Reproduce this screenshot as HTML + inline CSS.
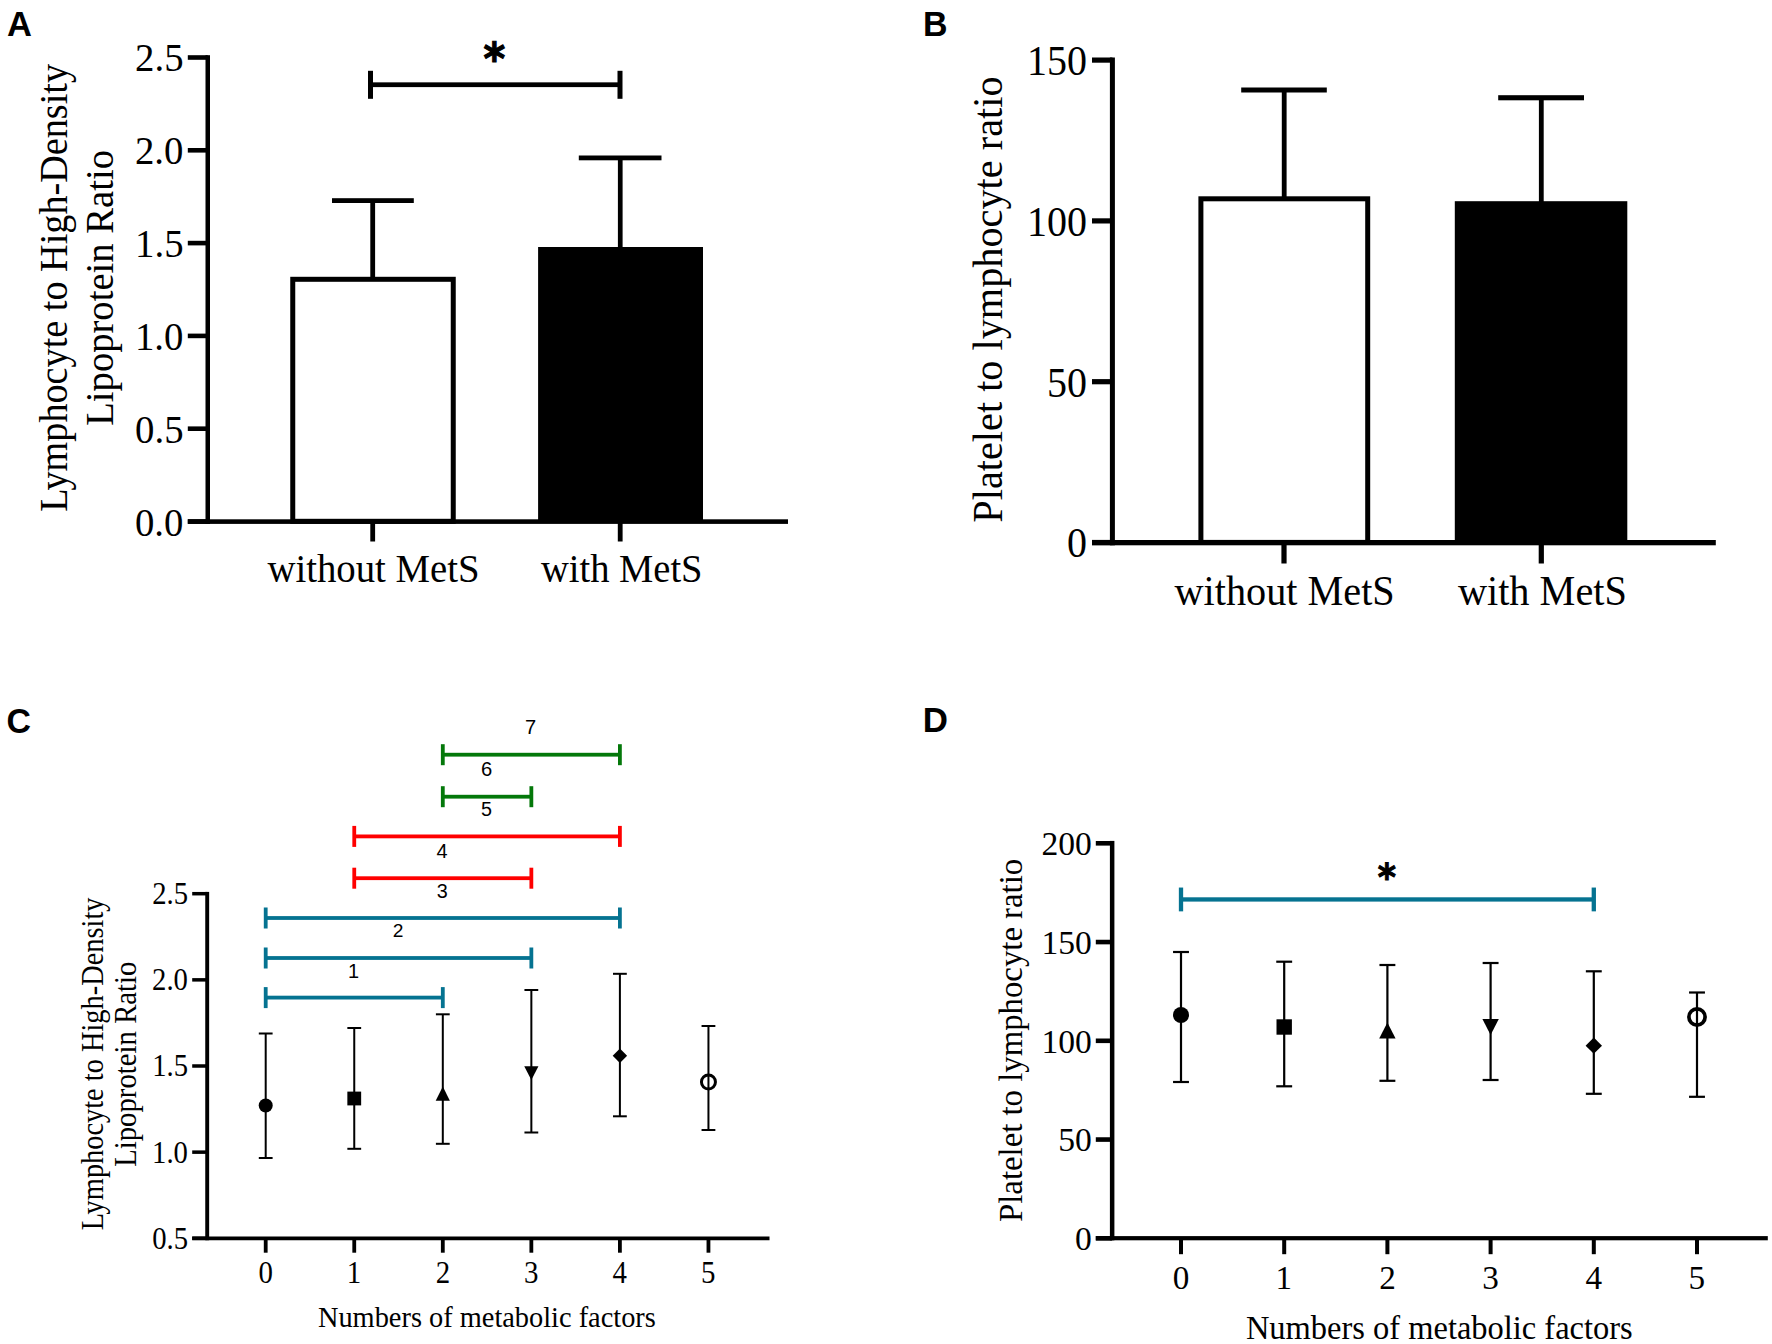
<!DOCTYPE html>
<html lang="en">
<head>
<meta charset="utf-8">
<title>Figure</title>
<style>
html,body{margin:0;padding:0;background:#fff;overflow:hidden;}
svg{display:block;}
text{white-space:pre;}
</style>
</head>
<body>
<svg width="1772" height="1344" viewBox="0 0 1772 1344">
<rect x="0" y="0" width="1772" height="1344" fill="#fff"/>
<g id="panelA">
<text transform="translate(7.04 35.90) scale(0.3448 0.3491)" font-family='"Liberation Sans", sans-serif' font-weight="bold" font-size="100" fill="#000">A</text>
<rect x="205.50" y="55.20" width="4.50" height="468.80" fill="#000"/>
<rect x="187.80" y="519.30" width="600.20" height="4.60" fill="#000"/>
<rect x="187.80" y="55.20" width="19.95" height="4.60" fill="#000"/>
<text transform="translate(135.05 71.10) scale(0.9533 1)" font-family='"Liberation Serif", serif' font-weight="normal" font-size="40.70" fill="#000">2.5</text>
<rect x="187.80" y="148.00" width="19.95" height="4.60" fill="#000"/>
<text transform="translate(134.95 164.08) scale(0.9533 1)" font-family='"Liberation Serif", serif' font-weight="normal" font-size="40.70" fill="#000">2.0</text>
<rect x="187.80" y="240.80" width="19.95" height="4.60" fill="#000"/>
<text transform="translate(135.05 257.06) scale(0.9533 1)" font-family='"Liberation Serif", serif' font-weight="normal" font-size="40.70" fill="#000">1.5</text>
<rect x="187.80" y="333.60" width="19.95" height="4.60" fill="#000"/>
<text transform="translate(134.95 350.04) scale(0.9533 1)" font-family='"Liberation Serif", serif' font-weight="normal" font-size="40.70" fill="#000">1.0</text>
<rect x="187.80" y="426.40" width="19.95" height="4.60" fill="#000"/>
<text transform="translate(135.05 443.02) scale(0.9533 1)" font-family='"Liberation Serif", serif' font-weight="normal" font-size="40.70" fill="#000">0.5</text>
<rect x="187.80" y="519.20" width="19.95" height="4.60" fill="#000"/>
<text transform="translate(134.95 536.00) scale(0.9533 1)" font-family='"Liberation Serif", serif' font-weight="normal" font-size="40.70" fill="#000">0.0</text>
<rect x="370.30" y="522.00" width="4.80" height="19.50" fill="#000"/>
<rect x="617.80" y="522.00" width="4.80" height="19.50" fill="#000"/>
<rect x="292.75" y="279.3" width="160.5" height="242.0" fill="#fff" stroke="#000" stroke-width="5"/>
<rect x="538.10" y="247.00" width="164.90" height="275.00" fill="#000"/>
<rect x="370.30" y="200.60" width="4.80" height="77.40" fill="#000"/>
<rect x="332.00" y="198.20" width="81.80" height="4.80" fill="#000"/>
<rect x="617.90" y="158.00" width="4.70" height="90.00" fill="#000"/>
<rect x="578.80" y="155.50" width="82.70" height="4.80" fill="#000"/>
<rect x="370.40" y="82.35" width="249.60" height="4.75" fill="#000"/>
<rect x="368.00" y="70.80" width="5.00" height="28.00" fill="#000"/>
<rect x="617.50" y="70.80" width="5.00" height="28.00" fill="#000"/>
<text transform="translate(483.62 74.32) scale(0.4145 0.4387)" font-family='"DejaVu Sans", sans-serif' font-weight="bold" font-size="100" fill="#000" stroke="#000" stroke-width="2.58">*</text>
<text transform="translate(267.40 581.70) scale(0.9528 1)" font-family='"Liberation Serif", serif' font-weight="normal" font-size="40.70" fill="#000">without MetS</text>
<text transform="translate(541.00 581.70) scale(0.9466 1)" font-family='"Liberation Serif", serif' font-weight="normal" font-size="40.70" fill="#000">with MetS</text>
<text transform="translate(67.20 511.75) rotate(-90) scale(0.9460 1)" font-family='"Liberation Serif", serif' font-weight="normal" font-size="40.40">Lymphocyte to High-Density</text>
<text transform="translate(112.50 425.76) rotate(-90) scale(0.9565 1)" font-family='"Liberation Serif", serif' font-weight="normal" font-size="40.40">Lipoprotein Ratio</text>
</g>
<g id="panelB">
<text transform="translate(923.01 35.80) scale(0.3393 0.3476)" font-family='"Liberation Sans", sans-serif' font-weight="bold" font-size="100" fill="#000">B</text>
<rect x="1109.90" y="57.50" width="5.00" height="487.80" fill="#000"/>
<rect x="1092.00" y="540.00" width="623.80" height="5.30" fill="#000"/>
<rect x="1092.00" y="57.50" width="20.40" height="5.20" fill="#000"/>
<text transform="translate(1027.10 75.00) scale(0.9524 1)" font-family='"Liberation Serif", serif' font-weight="normal" font-size="42.00" fill="#000">150</text>
<rect x="1092.00" y="218.30" width="20.40" height="5.20" fill="#000"/>
<text transform="translate(1027.10 235.80) scale(0.9524 1)" font-family='"Liberation Serif", serif' font-weight="normal" font-size="42.00" fill="#000">100</text>
<rect x="1092.00" y="379.10" width="20.40" height="5.20" fill="#000"/>
<text transform="translate(1047.10 396.60) scale(0.9524 1)" font-family='"Liberation Serif", serif' font-weight="normal" font-size="42.00" fill="#000">50</text>
<rect x="1092.00" y="539.90" width="20.40" height="5.20" fill="#000"/>
<text transform="translate(1067.10 557.40) scale(0.9524 1)" font-family='"Liberation Serif", serif' font-weight="normal" font-size="42.00" fill="#000">0</text>
<rect x="1281.40" y="543.00" width="5.20" height="20.50" fill="#000"/>
<rect x="1538.70" y="543.00" width="5.20" height="20.50" fill="#000"/>
<rect x="1200.9" y="198.8" width="166.8" height="343.6" fill="#fff" stroke="#000" stroke-width="5.0"/>
<rect x="1454.80" y="201.20" width="172.50" height="341.80" fill="#000"/>
<rect x="1281.80" y="90.00" width="4.80" height="108.00" fill="#000"/>
<rect x="1241.20" y="87.50" width="85.60" height="5.00" fill="#000"/>
<rect x="1538.90" y="98.00" width="4.80" height="104.00" fill="#000"/>
<rect x="1498.20" y="95.20" width="85.80" height="5.10" fill="#000"/>
<text transform="translate(1174.50 605.00) scale(0.9495 1)" font-family='"Liberation Serif", serif' font-weight="normal" font-size="42.40" fill="#000">without MetS</text>
<text transform="translate(1457.90 605.00) scale(0.9502 1)" font-family='"Liberation Serif", serif' font-weight="normal" font-size="42.40" fill="#000">with MetS</text>
<text transform="translate(1001.50 522.71) rotate(-90) scale(0.9502 1)" font-family='"Liberation Serif", serif' font-weight="normal" font-size="42.40">Platelet to lymphocyte ratio</text>
</g>
<g id="panelC">
<text transform="translate(6.54 732.65) scale(0.3389 0.3548)" font-family='"Liberation Sans", sans-serif' font-weight="bold" font-size="100" fill="#000">C</text>
<rect x="205.25" y="891.90" width="3.90" height="348.35" fill="#000"/>
<rect x="192.20" y="1236.50" width="577.30" height="3.75" fill="#000"/>
<rect x="192.20" y="891.95" width="15.00" height="3.50" fill="#000"/>
<text transform="translate(152.17 903.80) scale(0.9394 1)" font-family='"Liberation Serif", serif' font-weight="normal" font-size="30.55" fill="#000">2.5</text>
<rect x="192.20" y="978.10" width="15.00" height="3.50" fill="#000"/>
<text transform="translate(152.10 990.12) scale(0.9394 1)" font-family='"Liberation Serif", serif' font-weight="normal" font-size="30.55" fill="#000">2.0</text>
<rect x="192.20" y="1064.25" width="15.00" height="3.50" fill="#000"/>
<text transform="translate(152.17 1076.45) scale(0.9394 1)" font-family='"Liberation Serif", serif' font-weight="normal" font-size="30.55" fill="#000">1.5</text>
<rect x="192.20" y="1150.40" width="15.00" height="3.50" fill="#000"/>
<text transform="translate(152.10 1162.77) scale(0.9394 1)" font-family='"Liberation Serif", serif' font-weight="normal" font-size="30.55" fill="#000">1.0</text>
<rect x="192.20" y="1236.55" width="15.00" height="3.50" fill="#000"/>
<text transform="translate(152.17 1249.10) scale(0.9394 1)" font-family='"Liberation Serif", serif' font-weight="normal" font-size="30.55" fill="#000">0.5</text>
<rect x="263.80" y="1239.00" width="3.80" height="13.70" fill="#000"/>
<text transform="translate(258.47 1282.90) scale(0.9460 1)" font-family='"Liberation Serif", serif' font-weight="normal" font-size="30.55" fill="#000">0</text>
<rect x="352.35" y="1239.00" width="3.80" height="13.70" fill="#000"/>
<text transform="translate(346.63 1282.90) scale(0.9460 1)" font-family='"Liberation Serif", serif' font-weight="normal" font-size="30.55" fill="#000">1</text>
<rect x="440.90" y="1239.00" width="3.80" height="13.70" fill="#000"/>
<text transform="translate(435.72 1282.90) scale(0.9460 1)" font-family='"Liberation Serif", serif' font-weight="normal" font-size="30.55" fill="#000">2</text>
<rect x="529.45" y="1239.00" width="3.80" height="13.70" fill="#000"/>
<text transform="translate(524.02 1282.90) scale(0.9460 1)" font-family='"Liberation Serif", serif' font-weight="normal" font-size="30.55" fill="#000">3</text>
<rect x="618.00" y="1239.00" width="3.80" height="13.70" fill="#000"/>
<text transform="translate(612.60 1282.90) scale(0.9460 1)" font-family='"Liberation Serif", serif' font-weight="normal" font-size="30.55" fill="#000">4</text>
<rect x="706.55" y="1239.00" width="3.80" height="13.70" fill="#000"/>
<text transform="translate(700.97 1282.90) scale(0.9460 1)" font-family='"Liberation Serif", serif' font-weight="normal" font-size="30.55" fill="#000">5</text>
<text transform="translate(317.95 1326.80) scale(0.9654 1)" font-family='"Liberation Serif", serif' font-weight="normal" font-size="29.40" fill="#000">Numbers of metabolic factors</text>
<text transform="translate(102.50 1230.15) rotate(-90) scale(0.9280 1)" font-family='"Liberation Serif", serif' font-weight="normal" font-size="30.60">Lymphocyte to High-Density</text>
<text transform="translate(136.20 1166.86) rotate(-90) scale(0.9406 1)" font-family='"Liberation Serif", serif' font-weight="normal" font-size="30.60">Lipoprotein Ratio</text>
<rect x="265.70" y="995.70" width="177.10" height="3.80" fill="#057391"/>
<rect x="263.80" y="987.10" width="3.80" height="21.00" fill="#057391"/>
<rect x="440.90" y="987.10" width="3.80" height="21.00" fill="#057391"/>
<rect x="265.70" y="956.10" width="265.65" height="3.80" fill="#057391"/>
<rect x="263.80" y="947.50" width="3.80" height="21.00" fill="#057391"/>
<rect x="529.45" y="947.50" width="3.80" height="21.00" fill="#057391"/>
<rect x="265.70" y="916.10" width="354.20" height="3.80" fill="#057391"/>
<rect x="263.80" y="907.50" width="3.80" height="21.00" fill="#057391"/>
<rect x="618.00" y="907.50" width="3.80" height="21.00" fill="#057391"/>
<rect x="354.25" y="876.30" width="177.10" height="3.80" fill="#ff0000"/>
<rect x="352.35" y="867.70" width="3.80" height="21.00" fill="#ff0000"/>
<rect x="529.45" y="867.70" width="3.80" height="21.00" fill="#ff0000"/>
<rect x="354.25" y="834.50" width="265.65" height="3.80" fill="#ff0000"/>
<rect x="352.35" y="825.90" width="3.80" height="21.00" fill="#ff0000"/>
<rect x="618.00" y="825.90" width="3.80" height="21.00" fill="#ff0000"/>
<rect x="442.80" y="794.80" width="88.55" height="3.80" fill="#04780a"/>
<rect x="440.90" y="786.20" width="3.80" height="21.00" fill="#04780a"/>
<rect x="529.45" y="786.20" width="3.80" height="21.00" fill="#04780a"/>
<rect x="442.80" y="752.80" width="177.10" height="3.80" fill="#04780a"/>
<rect x="440.90" y="744.20" width="3.80" height="21.00" fill="#04780a"/>
<rect x="618.00" y="744.20" width="3.80" height="21.00" fill="#04780a"/>
<text transform="translate(348.10 977.50) scale(1.0000 1)" font-family='"Liberation Sans", sans-serif' font-weight="normal" font-size="19.93" fill="#000">1</text>
<text transform="translate(392.67 937.20) scale(1.0000 1)" font-family='"Liberation Sans", sans-serif' font-weight="normal" font-size="19.21" fill="#000">2</text>
<text transform="translate(436.76 898.10) scale(1.0000 1)" font-family='"Liberation Sans", sans-serif' font-weight="normal" font-size="19.79" fill="#000">3</text>
<text transform="translate(436.52 858.00) scale(1.0000 1)" font-family='"Liberation Sans", sans-serif' font-weight="normal" font-size="19.93" fill="#000">4</text>
<text transform="translate(481.11 815.60) scale(1.0000 1)" font-family='"Liberation Sans", sans-serif' font-weight="normal" font-size="19.78" fill="#000">5</text>
<text transform="translate(480.92 776.10) scale(1.0000 1)" font-family='"Liberation Sans", sans-serif' font-weight="normal" font-size="20.21" fill="#000">6</text>
<text transform="translate(525.00 734.30) scale(1.0000 1)" font-family='"Liberation Sans", sans-serif' font-weight="normal" font-size="20.07" fill="#000">7</text>
<rect x="264.70" y="1033.50" width="2.00" height="124.50" fill="#000"/>
<rect x="258.80" y="1032.50" width="13.80" height="2.00" fill="#000"/>
<rect x="258.80" y="1157.00" width="13.80" height="2.00" fill="#000"/>
<rect x="353.25" y="1028.00" width="2.00" height="120.80" fill="#000"/>
<rect x="347.35" y="1027.00" width="13.80" height="2.00" fill="#000"/>
<rect x="347.35" y="1147.80" width="13.80" height="2.00" fill="#000"/>
<rect x="441.80" y="1014.30" width="2.00" height="129.50" fill="#000"/>
<rect x="435.90" y="1013.30" width="13.80" height="2.00" fill="#000"/>
<rect x="435.90" y="1142.80" width="13.80" height="2.00" fill="#000"/>
<rect x="530.35" y="990.00" width="2.00" height="142.50" fill="#000"/>
<rect x="524.45" y="989.00" width="13.80" height="2.00" fill="#000"/>
<rect x="524.45" y="1131.50" width="13.80" height="2.00" fill="#000"/>
<rect x="618.90" y="973.80" width="2.00" height="142.50" fill="#000"/>
<rect x="613.00" y="972.80" width="13.80" height="2.00" fill="#000"/>
<rect x="613.00" y="1115.30" width="13.80" height="2.00" fill="#000"/>
<rect x="707.45" y="1026.00" width="2.00" height="104.00" fill="#000"/>
<rect x="701.55" y="1025.00" width="13.80" height="2.00" fill="#000"/>
<rect x="701.55" y="1129.00" width="13.80" height="2.00" fill="#000"/>
<circle cx="265.70" cy="1105.5" r="7"/>
<rect x="347.35" y="1091.60" width="13.80" height="13.80" fill="#000"/>
<polygon points="435.70,1100.7 449.90,1100.7 442.80,1086.6"/>
<polygon points="524.25,1066.3 538.45,1066.3 531.35,1080.0"/>
<polygon points="612.70,1055.8 619.90,1048.6 627.10,1055.8 619.90,1063.0"/>
<circle cx="708.45" cy="1082" r="7" fill="none" stroke="#000" stroke-width="3"/>
</g>
<g id="panelD">
<text transform="translate(922.64 732.10) scale(0.3494 0.3505)" font-family='"Liberation Sans", sans-serif' font-weight="bold" font-size="100" fill="#000">D</text>
<rect x="1109.90" y="840.90" width="4.50" height="399.40" fill="#000"/>
<rect x="1095.80" y="1236.10" width="672.00" height="4.20" fill="#000"/>
<rect x="1095.80" y="841.00" width="16.35" height="4.60" fill="#000"/>
<text transform="translate(1041.46 855.00) scale(0.9669 1)" font-family='"Liberation Serif", serif' font-weight="normal" font-size="34.75" fill="#000">200</text>
<rect x="1095.80" y="939.75" width="16.35" height="4.60" fill="#000"/>
<text transform="translate(1041.46 953.75) scale(0.9669 1)" font-family='"Liberation Serif", serif' font-weight="normal" font-size="34.75" fill="#000">150</text>
<rect x="1095.80" y="1038.50" width="16.35" height="4.60" fill="#000"/>
<text transform="translate(1041.46 1052.50) scale(0.9669 1)" font-family='"Liberation Serif", serif' font-weight="normal" font-size="34.75" fill="#000">100</text>
<rect x="1095.80" y="1137.25" width="16.35" height="4.60" fill="#000"/>
<text transform="translate(1058.26 1151.25) scale(0.9669 1)" font-family='"Liberation Serif", serif' font-weight="normal" font-size="34.75" fill="#000">50</text>
<rect x="1095.80" y="1236.00" width="16.35" height="4.60" fill="#000"/>
<text transform="translate(1075.06 1250.00) scale(0.9669 1)" font-family='"Liberation Serif", serif' font-weight="normal" font-size="34.75" fill="#000">0</text>
<rect x="1179.00" y="1239.00" width="4.00" height="15.20" fill="#000"/>
<text transform="translate(1172.70 1288.80) scale(0.9568 1)" font-family='"Liberation Serif", serif' font-weight="normal" font-size="34.70" fill="#000">0</text>
<rect x="1282.20" y="1239.00" width="4.00" height="15.20" fill="#000"/>
<text transform="translate(1275.44 1288.80) scale(0.9568 1)" font-family='"Liberation Serif", serif' font-weight="normal" font-size="34.70" fill="#000">1</text>
<rect x="1385.40" y="1239.00" width="4.00" height="15.20" fill="#000"/>
<text transform="translate(1379.27 1288.80) scale(0.9568 1)" font-family='"Liberation Serif", serif' font-weight="normal" font-size="34.70" fill="#000">2</text>
<rect x="1488.60" y="1239.00" width="4.00" height="15.20" fill="#000"/>
<text transform="translate(1482.18 1288.80) scale(0.9568 1)" font-family='"Liberation Serif", serif' font-weight="normal" font-size="34.70" fill="#000">3</text>
<rect x="1591.80" y="1239.00" width="4.00" height="15.20" fill="#000"/>
<text transform="translate(1585.42 1288.80) scale(0.9568 1)" font-family='"Liberation Serif", serif' font-weight="normal" font-size="34.70" fill="#000">4</text>
<rect x="1695.00" y="1239.00" width="4.00" height="15.20" fill="#000"/>
<text transform="translate(1688.41 1288.80) scale(0.9568 1)" font-family='"Liberation Serif", serif' font-weight="normal" font-size="34.70" fill="#000">5</text>
<text transform="translate(1245.93 1338.50) scale(0.9384 1)" font-family='"Liberation Serif", serif' font-weight="normal" font-size="34.60" fill="#000">Numbers of metabolic factors</text>
<text transform="translate(1021.60 1221.98) rotate(-90) scale(0.9874 1)" font-family='"Liberation Serif", serif' font-weight="normal" font-size="33.20">Platelet to lymphocyte ratio</text>
<rect x="1181.00" y="897.30" width="412.80" height="4.30" fill="#057391"/>
<rect x="1178.85" y="887.55" width="4.30" height="23.80" fill="#057391"/>
<rect x="1591.65" y="887.55" width="4.30" height="23.80" fill="#057391"/>
<text transform="translate(1377.80 890.26) scale(0.3482 0.3806)" font-family='"DejaVu Sans", sans-serif' font-weight="bold" font-size="100" fill="#000" stroke="#000" stroke-width="2.74">*</text>
<rect x="1179.90" y="952.00" width="2.20" height="130.00" fill="#000"/>
<rect x="1173.05" y="950.90" width="15.90" height="2.20" fill="#000"/>
<rect x="1173.05" y="1080.90" width="15.90" height="2.20" fill="#000"/>
<rect x="1283.10" y="961.70" width="2.20" height="124.60" fill="#000"/>
<rect x="1276.25" y="960.60" width="15.90" height="2.20" fill="#000"/>
<rect x="1276.25" y="1085.20" width="15.90" height="2.20" fill="#000"/>
<rect x="1386.30" y="965.00" width="2.20" height="115.80" fill="#000"/>
<rect x="1379.45" y="963.90" width="15.90" height="2.20" fill="#000"/>
<rect x="1379.45" y="1079.70" width="15.90" height="2.20" fill="#000"/>
<rect x="1489.50" y="963.00" width="2.20" height="117.00" fill="#000"/>
<rect x="1482.65" y="961.90" width="15.90" height="2.20" fill="#000"/>
<rect x="1482.65" y="1078.90" width="15.90" height="2.20" fill="#000"/>
<rect x="1592.70" y="971.30" width="2.20" height="122.50" fill="#000"/>
<rect x="1585.85" y="970.20" width="15.90" height="2.20" fill="#000"/>
<rect x="1585.85" y="1092.70" width="15.90" height="2.20" fill="#000"/>
<rect x="1695.90" y="992.50" width="2.20" height="104.30" fill="#000"/>
<rect x="1689.05" y="991.40" width="15.90" height="2.20" fill="#000"/>
<rect x="1689.05" y="1095.70" width="15.90" height="2.20" fill="#000"/>
<circle cx="1181.00" cy="1015" r="8"/>
<rect x="1276.50" y="1019.30" width="15.40" height="15.40" fill="#000"/>
<polygon points="1379.20,1038.6 1395.60,1038.6 1387.40,1022.6"/>
<polygon points="1482.40,1019.1 1498.80,1019.1 1490.60,1035.0"/>
<polygon points="1585.60,1045.7 1593.80,1037.6 1602.00,1045.7 1593.80,1053.8"/>
<circle cx="1697.00" cy="1017" r="8.1" fill="none" stroke="#000" stroke-width="3.7"/>
</g>
</svg>
</body>
</html>
